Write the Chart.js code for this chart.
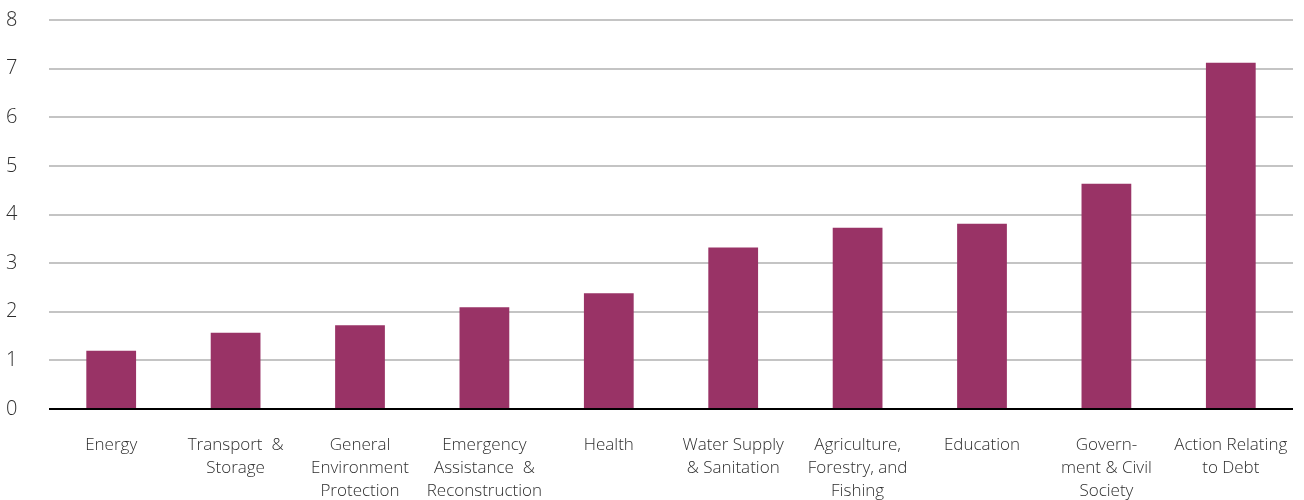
<!DOCTYPE html>
<html>
<head>
<meta charset="utf-8">
<script src="https://cdn.jsdelivr.net/npm/chart.js@4/dist/chart.umd.min.js"></script>
<style>
  html, body { margin: 0; padding: 0; background: #fff; overflow: hidden; }
  canvas { display: block; }
</style>
</head>
<body>
<canvas id="sectorChart" width="1304" height="500"></canvas>
<script>
// Categories (multi-line labels as shown under each bar)
const categories = [
    ['Energy'],
    ['Transport  &', 'Storage'],
    ['General', 'Environment', 'Protection'],
    ['Emergency', 'Assistance  &', 'Reconstruction'],
    ['Health'],
    ['Water Supply', '& Sanitation'],
    ['Agriculture,', 'Forestry, and', 'Fishing'],
    ['Education'],
    ['Govern-', 'ment & Civil', 'Society'],
    ['Action Relating', 'to Debt']
];

// Values
const values = [1.2, 1.57, 1.72, 2.09, 2.38, 3.32, 3.73, 3.81, 4.63, 7.12];

// Y axis ticks
const yTicks = [0, 1, 2, 3, 4, 5, 6, 7, 8];

const fontFamily = "'Open Sans', Lato, 'DejaVu Sans', sans-serif";

const ctx = document.getElementById('sectorChart').getContext('2d');
new Chart(ctx, {
    type: 'bar',
    data: {
        labels: categories,
        datasets: [{
            data: values,
            backgroundColor: '#993366',
            borderWidth: 0,
            barPercentage: 0.4,
            categoryPercentage: 1
        }]
    },
    options: {
        responsive: false,
        devicePixelRatio: 1,
        animation: false,
        layout: {
            padding: { top: 19, right: 11, left: 6, bottom: 0 }
        },
        plugins: {
            legend: { display: false },
            tooltip: { enabled: false }
        },
        scales: {
            x: {
                grid: { display: false, drawTicks: false },
                border: { display: false },
                ticks: {
                    color: '#2e2e2e',
                    font: { family: fontFamily, size: 17, weight: 300, lineHeight: 1.35 },
                    padding: 25,
                    maxRotation: 0,
                    autoSkip: false
                },
                afterFit: function(scale) {
                    scale.height = 91;
                    // labels may overhang; keep plot edges fixed
                    scale.paddingLeft = 0;
                    scale.paddingRight = 0;
                }
            },
            y: {
                min: yTicks[0],
                max: yTicks[yTicks.length - 1],
                afterBuildTicks: function(scale) {
                    scale.ticks = yTicks.map(v => ({ value: v }));
                },
                grid: {
                    drawTicks: false,
                    lineWidth: 2,
                    color: c => (c.tick && c.tick.value === 0) ? '#000000' : '#c4c4c4'
                },
                border: { display: false },
                ticks: {
                    color: '#2e2e2e',
                    font: { family: fontFamily, size: 20, weight: 300 },
                    crossAlign: 'far',
                    padding: 8
                },
                afterFit: function(scale) { scale.width = 43; }
            }
        }
    }
});
</script>
</body>
</html>
